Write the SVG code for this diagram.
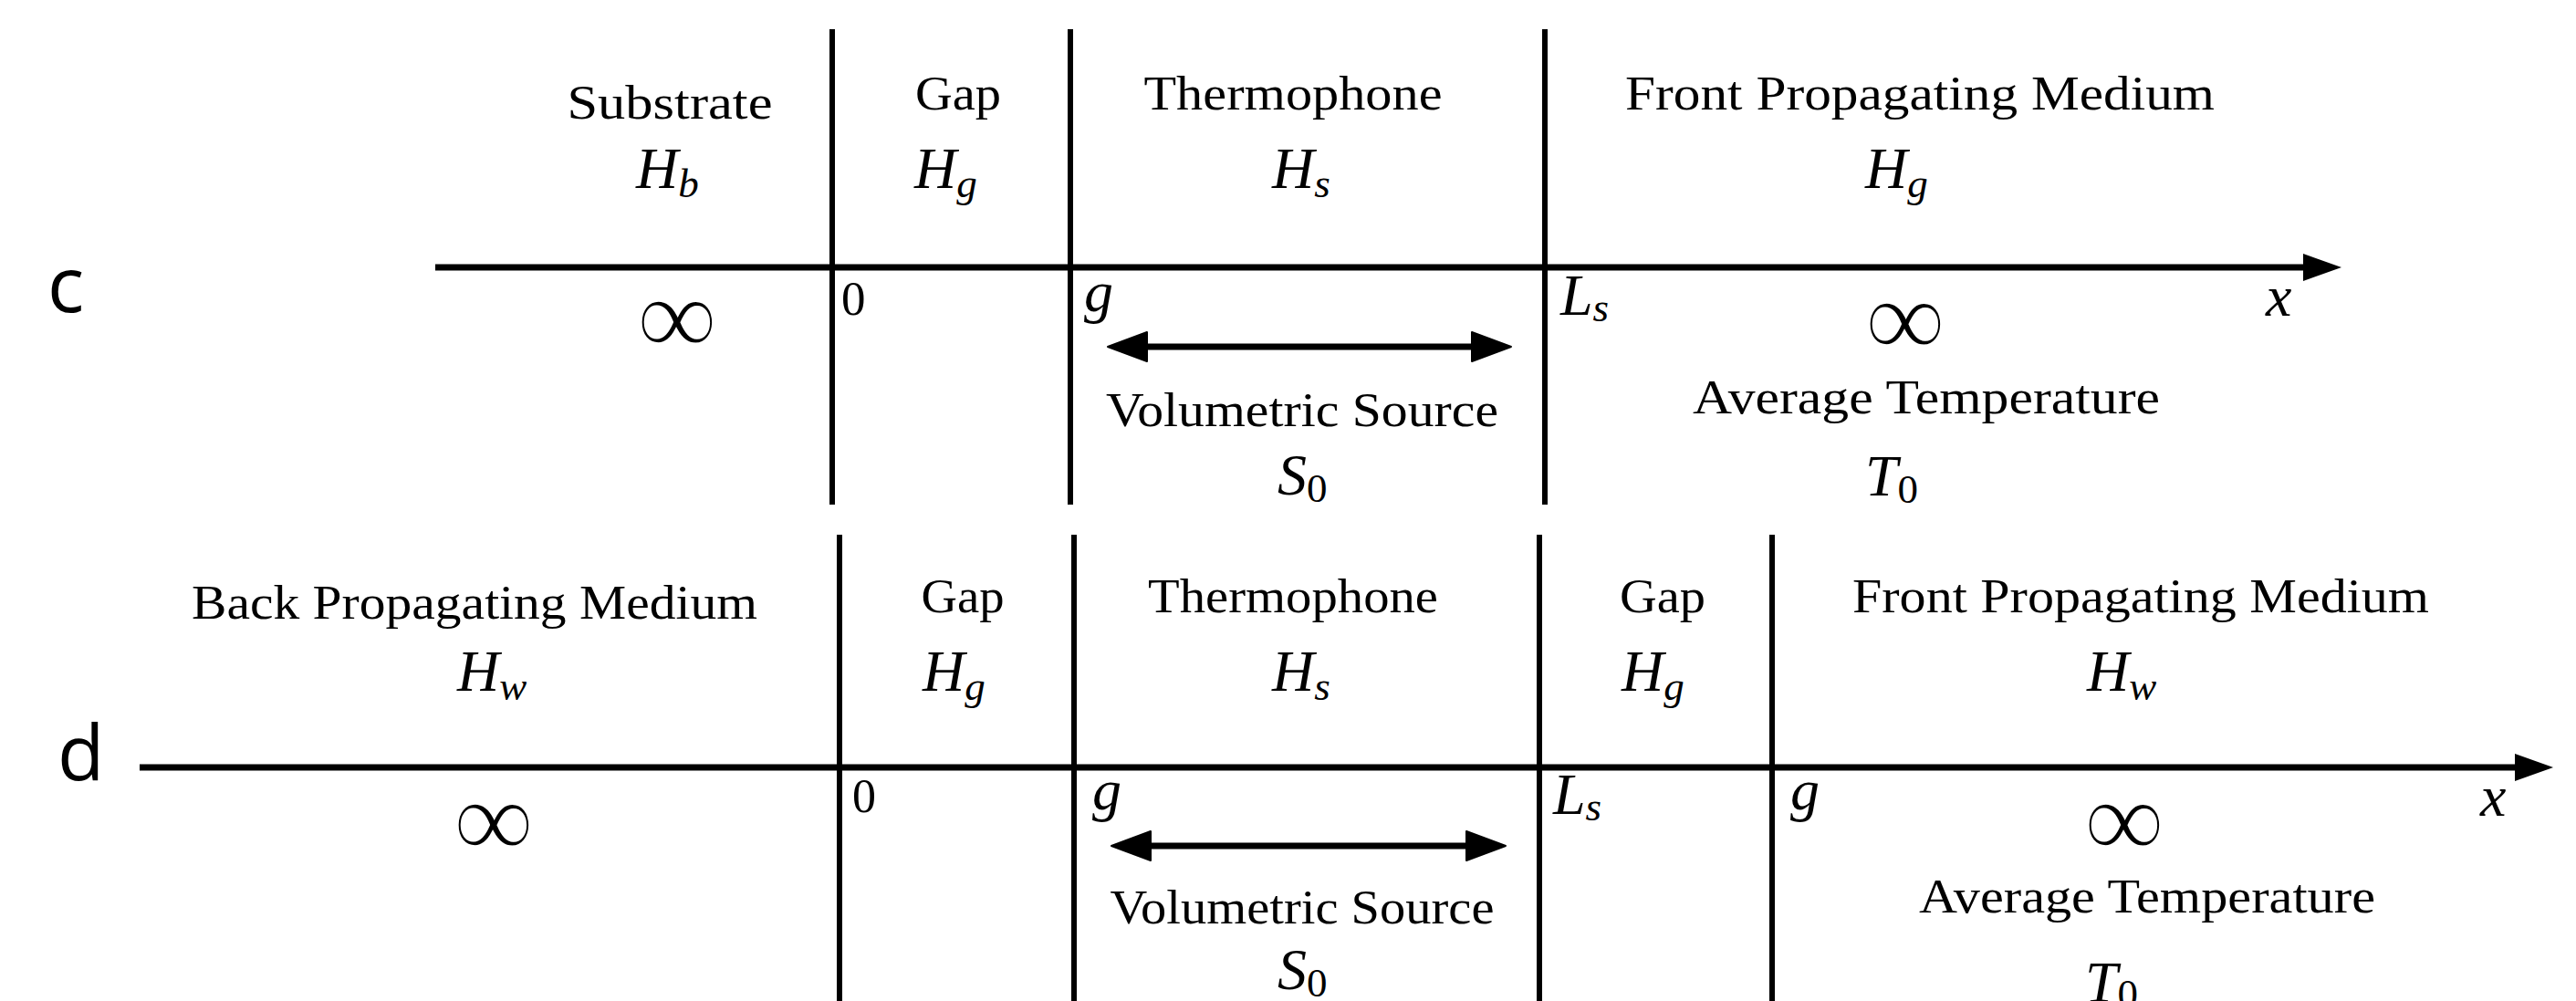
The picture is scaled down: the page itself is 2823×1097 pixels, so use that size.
<svg xmlns="http://www.w3.org/2000/svg" width="2823" height="1097" viewBox="0 0 2823 1097">
  <style>
    .bg { fill: #ffffff; }
    .rule { stroke: #000; stroke-width: 6; fill: none; }
    .axis { stroke: #000; stroke-width: 7; fill: none; }
    .span { stroke: #000; stroke-width: 7; fill: none; }
    .rm { font-family: "Liberation Serif", "Times New Roman", serif; font-size: 53px; fill: #000; }
    .rm2 { font-family: "Liberation Serif", "Times New Roman", serif; font-size: 52px; fill: #000; }
    .mi { font-family: "Liberation Serif", "Times New Roman", serif; font-style: italic; font-size: 64px; fill: #000; }
    .sub { font-size: 45px; }
    .up { font-style: normal; }
    .inf { font-family: "Liberation Serif", "Times New Roman", serif; font-size: 124px; fill: #000; stroke: #fff; stroke-width: 2.5; text-anchor: middle; }
    .lab { font-family: "Open Sans", "Liberation Sans", sans-serif; font-size: 84px; fill: #000; }
  </style>
  <defs>
    <marker id="axisHead" markerUnits="userSpaceOnUse" markerWidth="44" markerHeight="34" viewBox="0 -17 44 34" refX="0" refY="0" orient="auto">
      <path d="M0,-15 L42,0 L0,15 Z" fill="#000"/>
    </marker>
    <marker id="srcHead" markerUnits="userSpaceOnUse" markerWidth="48" markerHeight="38" viewBox="-2 -19 48 38" refX="0" refY="0" orient="auto-start-reverse">
      <path d="M0,-16 L43,0 L0,16 Z" fill="#000" stroke="#000" stroke-width="2" stroke-linejoin="round"/>
    </marker>
  </defs>
  <rect class="bg" x="0" y="0" width="2823" height="1097"/>

  <!-- Panel c -->
  <g id="panel-c">
    <text class="lab" x="52" y="342">c</text>
    <g id="c-boundaries">
      <line class="rule" x1="912" y1="32" x2="912" y2="553"/>
      <line class="rule" x1="1173" y1="32" x2="1173" y2="553"/>
      <line class="rule" x1="1693" y1="32" x2="1693" y2="553"/>
    </g>
    <g id="c-substrate">
      <text class="rm" x="734" y="130" text-anchor="middle" textLength="225" lengthAdjust="spacingAndGlyphs">Substrate</text>
      <text class="mi" x="697" y="206">H<tspan class="sub" dy="10">b</tspan></text>
      <text class="inf" x="742" y="389">∞</text>
    </g>
    <g id="c-gap">
      <text class="rm" x="1050" y="120" text-anchor="middle" textLength="94" lengthAdjust="spacingAndGlyphs">Gap</text>
      <text class="mi" x="1002" y="206">H<tspan class="sub" dy="10">g</tspan></text>
      <text class="rm" x="922" y="345">0</text>
    </g>
    <g id="c-thermophone">
      <text class="rm" x="1417" y="120" text-anchor="middle" textLength="327" lengthAdjust="spacingAndGlyphs">Thermophone</text>
      <text class="mi" x="1394" y="206">H<tspan class="sub" dy="10">s</tspan></text>
      <text class="mi" x="1188" y="341">g</text>
      <text class="rm" x="1427" y="467" text-anchor="middle" textLength="430" lengthAdjust="spacingAndGlyphs">Volumetric Source</text>
      <text class="mi" x="1400" y="542">S<tspan class="sub up" dy="8">0</tspan></text>
    </g>
    <g id="c-front">
      <text class="rm" x="2104" y="120" text-anchor="middle" textLength="646" lengthAdjust="spacingAndGlyphs">Front Propagating Medium</text>
      <text class="mi" x="2044" y="206">H<tspan class="sub" dy="10">g</tspan></text>
      <text class="mi" x="1710" y="345">L<tspan class="sub" dy="7">s</tspan></text>
      <text class="mi" x="2483" y="346">x</text>
      <text class="inf" x="2088" y="391">∞</text>
      <text class="rm" x="2111" y="453" text-anchor="middle" textLength="512" lengthAdjust="spacingAndGlyphs">Average Temperature</text>
      <text class="mi" x="2044" y="543">T<tspan class="sub up" dy="8">0</tspan></text>
    </g>
  </g>

  <!-- Panel d -->
  <g id="panel-d">
    <text class="lab" x="63" y="855">d</text>
    <g id="d-boundaries">
      <line class="rule" x1="920" y1="586" x2="920" y2="1097"/>
      <line class="rule" x1="1177" y1="586" x2="1177" y2="1097"/>
      <line class="rule" x1="1687" y1="586" x2="1687" y2="1097"/>
      <line class="rule" x1="1942" y1="586" x2="1942" y2="1097"/>
    </g>
    <g id="d-back">
      <text class="rm2" x="520" y="678" text-anchor="middle" textLength="620" lengthAdjust="spacingAndGlyphs">Back Propagating Medium</text>
      <text class="mi" x="501" y="757">H<tspan class="sub" dy="10">w</tspan></text>
      <text class="inf" x="541" y="940">∞</text>
    </g>
    <g id="d-gap1">
      <text class="rm2" x="1055" y="671" text-anchor="middle" textLength="91" lengthAdjust="spacingAndGlyphs">Gap</text>
      <text class="mi" x="1011" y="757">H<tspan class="sub" dy="10">g</tspan></text>
      <text class="rm2" x="934" y="890">0</text>
    </g>
    <g id="d-thermophone">
      <text class="rm2" x="1417" y="671" text-anchor="middle" textLength="318" lengthAdjust="spacingAndGlyphs">Thermophone</text>
      <text class="mi" x="1394" y="757">H<tspan class="sub" dy="10">s</tspan></text>
      <text class="mi" x="1197" y="887">g</text>
      <text class="rm2" x="1427" y="1012" text-anchor="middle" textLength="421" lengthAdjust="spacingAndGlyphs">Volumetric Source</text>
      <text class="mi" x="1400" y="1084">S<tspan class="sub up" dy="8">0</tspan></text>
    </g>
    <g id="d-gap2">
      <text class="rm2" x="1822" y="671" text-anchor="middle" textLength="94" lengthAdjust="spacingAndGlyphs">Gap</text>
      <text class="mi" x="1777" y="757">H<tspan class="sub" dy="10">g</tspan></text>
      <text class="mi" x="1702" y="892">L<tspan class="sub" dy="7">s</tspan></text>
    </g>
    <g id="d-front">
      <text class="rm2" x="2346" y="671" text-anchor="middle" textLength="632" lengthAdjust="spacingAndGlyphs">Front Propagating Medium</text>
      <text class="mi" x="2287" y="757">H<tspan class="sub" dy="10">w</tspan></text>
      <text class="mi" x="1962" y="887">g</text>
      <text class="mi" x="2718" y="894">x</text>
      <text class="inf" x="2328" y="940">∞</text>
      <text class="rm2" x="2353" y="1000" text-anchor="middle" textLength="500" lengthAdjust="spacingAndGlyphs">Average Temperature</text>
      <text class="mi" x="2285" y="1098">T<tspan class="sub up" dy="6">0</tspan></text>
    </g>
  </g>

  <!-- Connectors: axes and source spans -->
  <g id="connectors">
    <line class="axis" x1="477" y1="293" x2="2524" y2="293" marker-end="url(#axisHead)"/>
    <line class="axis" x1="153" y1="841" x2="2756" y2="841" marker-end="url(#axisHead)"/>
    <line class="span" x1="1257" y1="380" x2="1613" y2="380" marker-start="url(#srcHead)" marker-end="url(#srcHead)"/>
    <line class="span" x1="1261" y1="927" x2="1607" y2="927" marker-start="url(#srcHead)" marker-end="url(#srcHead)"/>
  </g>
</svg>
